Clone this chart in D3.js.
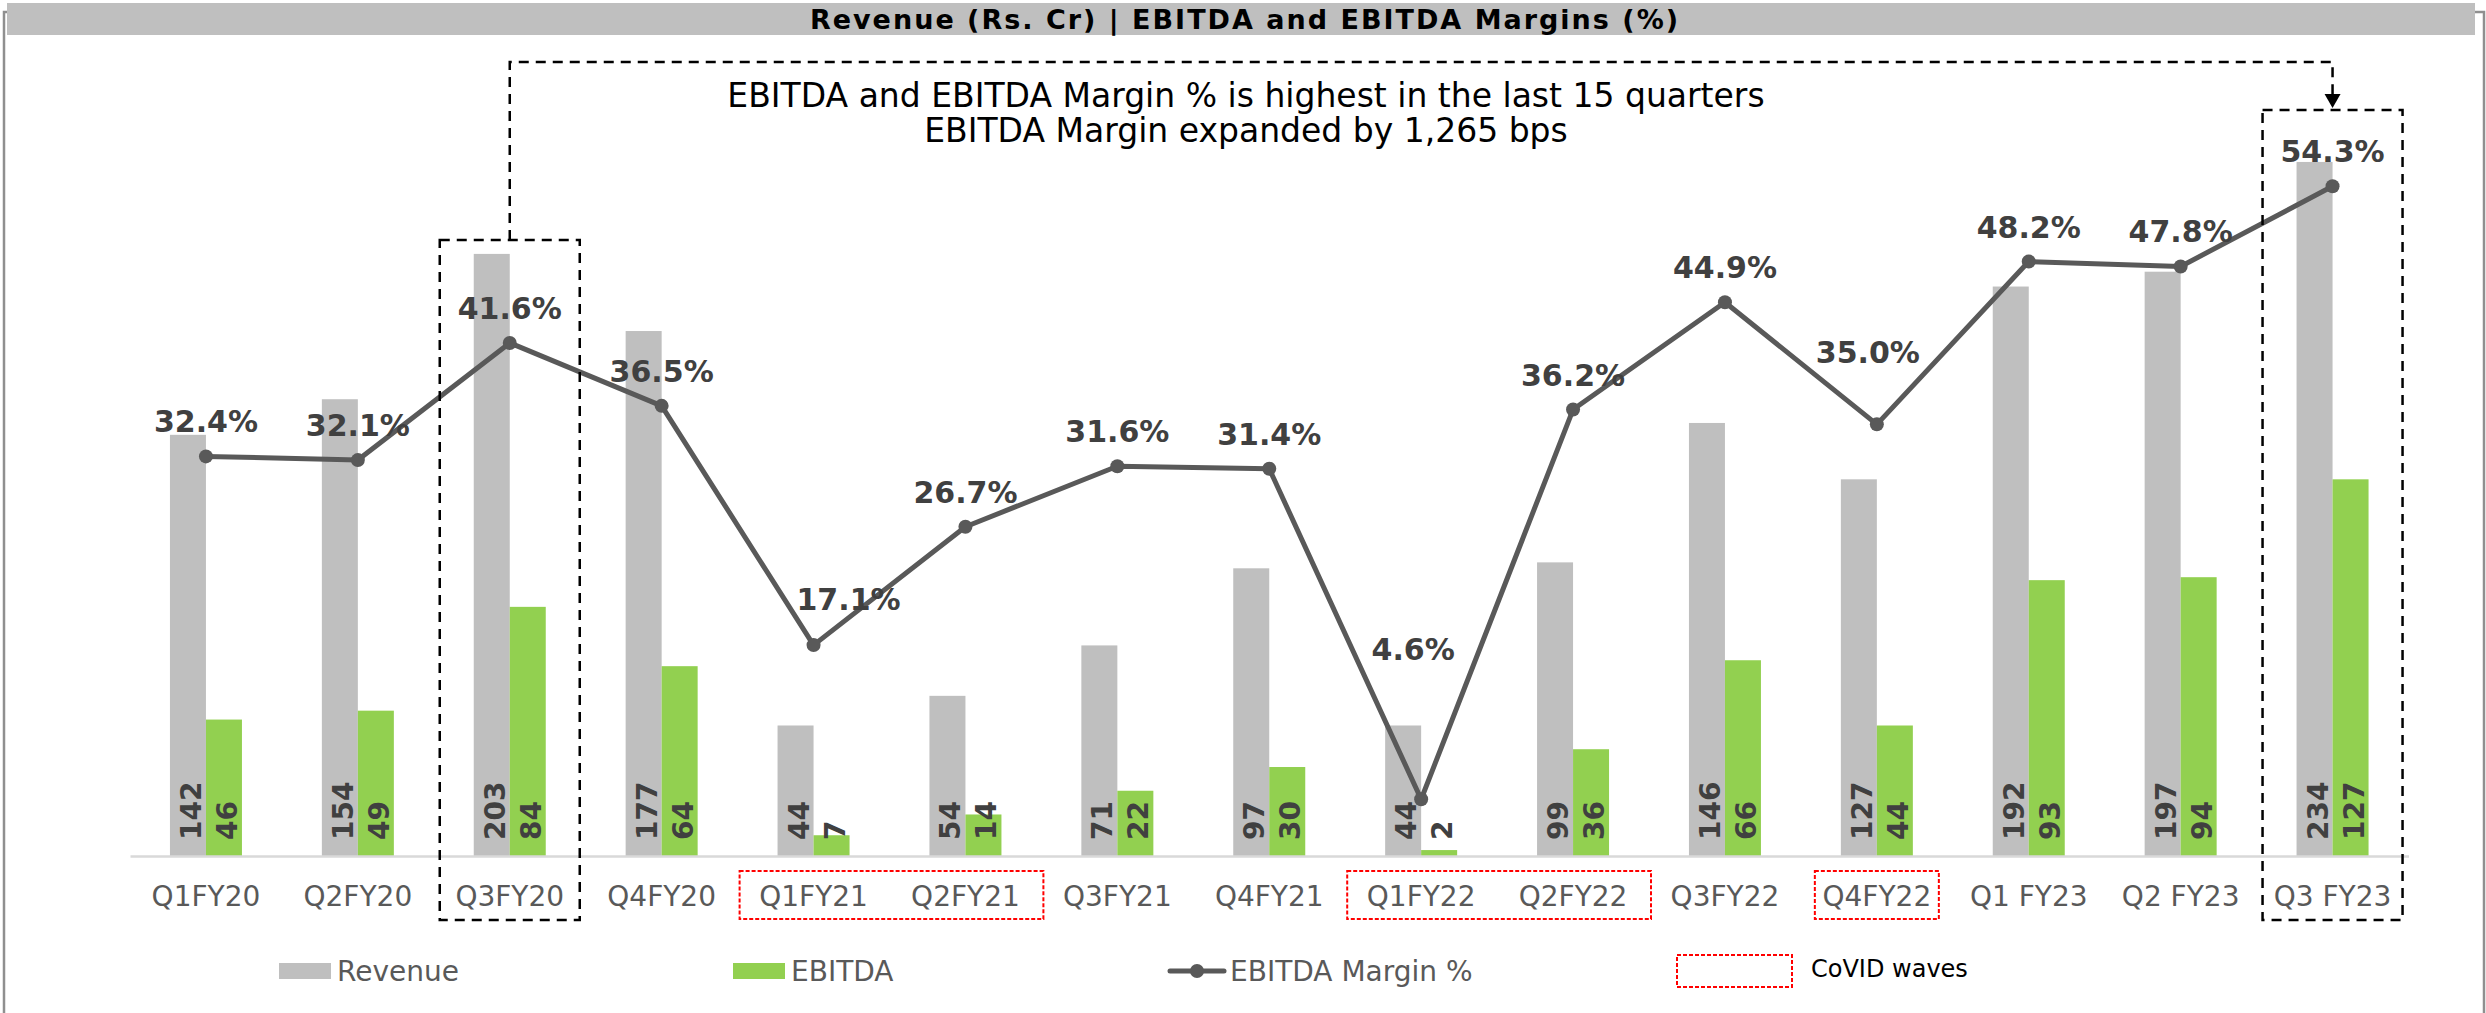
<!DOCTYPE html>
<html>
<head>
<meta charset="utf-8">
<script src="https://cdn.jsdelivr.net/npm/d3@7"></script>
<style>
body { margin: 0; background: #fff; }
svg { display: block; font-family: "DejaVu Sans", Verdana, sans-serif; }
</style>
</head>
<body>
<script>
var width = 2486;
var height = 1013;

// data
var quarters = ["Q1FY20", "Q2FY20", "Q3FY20", "Q4FY20", "Q1FY21", "Q2FY21", "Q3FY21", "Q4FY21",
                "Q1FY22", "Q2FY22", "Q3FY22", "Q4FY22", "Q1 FY23", "Q2 FY23", "Q3 FY23"];
var revenue = [142, 154, 203, 177, 44, 54, 71, 97, 44, 99, 146, 127, 192, 197, 234];
var ebitda = [46, 49, 84, 64, 7, 14, 22, 30, 2, 36, 66, 44, 93, 94, 127];
var margin = [32.4, 32.1, 41.6, 36.5, 17.1, 26.7, 31.6, 31.4, 4.6, 36.2, 44.9, 35.0, 48.2, 47.8, 54.3];

var covidWaves = [["Q1FY21", "Q2FY21"], ["Q1FY22", "Q2FY22"], ["Q4FY22"]];
var highlighted = ["Q3FY20", "Q3 FY23"];
var title = "Revenue (Rs. Cr) | EBITDA and EBITDA Margins (%)";
var note = ["EBITDA and EBITDA Margin % is highest in the last 15 quarters",
            "EBITDA Margin expanded by 1,265 bps"];

var baseY = 856;
var barW = 36;
var grey = "#bfbfbf", green = "#92d050", lineCol = "#595959", labelCol = "#404040";

var x = d3.scaleBand().domain(quarters).range([130, 2408.5]);
var yBar = d3.scaleLinear().domain([0, 250]).range([baseY, baseY - 741.5]);
var yPct = d3.scaleLinear().domain([0, 60]).range([baseY, baseY - 740]);
function cx(q) { return x(q) + x.bandwidth() / 2; }

// label nudges where the original moved them off the point
var pctShift = {"Q1FY21": [35, -35], "Q1FY22": [-8, -139], "Q4FY22": [-9, -61]};

var svg = d3.select("body").append("svg")
  .attr("width", width)
  .attr("height", height);

// frame + title band
svg.append("rect")
  .attr("x", 4).attr("y", 12).attr("width", 2480).attr("height", 1020)
  .attr("fill", "none").attr("stroke", "#8f8f8f").attr("stroke-width", 2.5);
svg.append("rect")
  .attr("x", 7).attr("y", 3).attr("width", 2468).attr("height", 32)
  .attr("fill", grey);
svg.append("text")
  .attr("x", 1245).attr("y", 29)
  .attr("text-anchor", "middle")
  .attr("font-size", "27px").attr("font-weight", "bold")
  .attr("letter-spacing", "2px")
  .attr("fill", "#000")
  .text(title);

// bars
var rows = quarters.map(function(q, i) {
  return {q: q, rev: revenue[i], ebitda: ebitda[i], pct: margin[i]};
});

svg.selectAll(".rev")
  .data(rows).enter().append("rect")
  .attr("class", "rev")
  .attr("x", function(d) { return cx(d.q) - barW; })
  .attr("y", function(d) { return yBar(d.rev); })
  .attr("width", barW)
  .attr("height", function(d) { return baseY - yBar(d.rev); })
  .attr("fill", grey);

svg.selectAll(".ebitda")
  .data(rows).enter().append("rect")
  .attr("class", "ebitda")
  .attr("x", function(d) { return cx(d.q); })
  .attr("y", function(d) { return yBar(d.ebitda); })
  .attr("width", barW)
  .attr("height", function(d) { return baseY - yBar(d.ebitda); })
  .attr("fill", green);

// x axis
var axis = svg.append("g")
  .attr("transform", "translate(0," + baseY + ")")
  .call(d3.axisBottom(x).tickSize(0).tickSizeOuter(0));
axis.select(".domain").attr("stroke", "#d9d9d9").attr("stroke-width", 2.5);
axis.selectAll("text")
  .attr("y", 50).attr("dy", null)
  .attr("font-size", "28px")
  .attr("font-family", "DejaVu Sans, Verdana, sans-serif")
  .attr("fill", lineCol);

// vertical value labels
svg.selectAll(".revLab")
  .data(rows).enter().append("text")
  .attr("class", "revLab")
  .attr("transform", function(d) { return "translate(" + (cx(d.q) - 5) + "," + (baseY - 16) + ") rotate(-90)"; })
  .attr("font-size", "28px").attr("font-weight", "bold")
  .attr("fill", labelCol)
  .text(function(d) { return d.rev; });

svg.selectAll(".ebLab")
  .data(rows).enter().append("text")
  .attr("class", "ebLab")
  .attr("transform", function(d) { return "translate(" + (cx(d.q) + 31) + "," + (baseY - 16) + ") rotate(-90)"; })
  .attr("font-size", "28px").attr("font-weight", "bold")
  .attr("fill", labelCol)
  .text(function(d) { return d.ebitda; });

// margin line
var line = d3.line()
  .x(function(d) { return cx(d.q); })
  .y(function(d) { return yPct(d.pct); });

svg.append("path")
  .datum(rows)
  .attr("d", line)
  .attr("fill", "none")
  .attr("stroke", lineCol)
  .attr("stroke-width", 5)
  .attr("stroke-linejoin", "round");

svg.selectAll(".dot")
  .data(rows).enter().append("circle")
  .attr("class", "dot")
  .attr("cx", function(d) { return cx(d.q); })
  .attr("cy", function(d) { return yPct(d.pct); })
  .attr("r", 7)
  .attr("fill", lineCol);

svg.selectAll(".pctLab")
  .data(rows).enter().append("text")
  .attr("class", "pctLab")
  .attr("x", function(d) { return cx(d.q) + (pctShift[d.q] ? pctShift[d.q][0] : 0); })
  .attr("y", function(d) { return yPct(d.pct) + (pctShift[d.q] ? pctShift[d.q][1] : -24); })
  .attr("text-anchor", "middle")
  .attr("font-size", "30px").attr("font-weight", "bold")
  .attr("fill", labelCol)
  .text(function(d) { return d.pct.toFixed(1) + "%"; });

// highlight boxes and connector
var boxTop = {"Q3FY20": 240, "Q3 FY23": 110};
svg.selectAll(".hl")
  .data(highlighted).enter().append("rect")
  .attr("class", "hl")
  .attr("x", function(q) { return cx(q) - 70; })
  .attr("y", function(q) { return boxTop[q]; })
  .attr("width", 140)
  .attr("height", function(q) { return 920 - boxTop[q]; })
  .attr("fill", "none").attr("stroke", "#000")
  .attr("stroke-width", 2.5).attr("stroke-dasharray", "10,7");

var x0 = cx(highlighted[0]), x1 = cx(highlighted[1]);
svg.append("path")
  .attr("d", "M" + x0 + ",240V62H" + x1 + "V95")
  .attr("fill", "none").attr("stroke", "#000")
  .attr("stroke-width", 2.5).attr("stroke-dasharray", "10,7");
svg.append("path")
  .attr("d", "M" + x1 + ",108L" + (x1 - 8) + ",94L" + (x1 + 8) + ",94Z")
  .attr("fill", "#000");

svg.selectAll(".note")
  .data(note).enter().append("text")
  .attr("class", "note")
  .attr("x", 1246)
  .attr("y", function(d, i) { return 107 + i * 35; })
  .attr("text-anchor", "middle")
  .attr("font-size", "33px")
  .attr("fill", "#000")
  .text(function(d) { return d; });

// covid boxes
svg.selectAll(".covid")
  .data(covidWaves).enter().append("rect")
  .attr("class", "covid")
  .attr("x", function(g) { return g.length > 1 ? x(g[0]) + 2 : cx(g[0]) - 62; })
  .attr("y", 871)
  .attr("width", function(g) {
    return g.length > 1 ? x(g[g.length - 1]) + x.bandwidth() - x(g[0]) : 124;
  })
  .attr("height", 48)
  .attr("fill", "none").attr("stroke", "#ff0000")
  .attr("stroke-width", 2).attr("stroke-dasharray", "4,2");

// legend
var legend = svg.append("g");
legend.append("rect").attr("x", 279).attr("y", 963).attr("width", 52).attr("height", 16).attr("fill", grey);
legend.append("text").attr("x", 337).attr("y", 981).text("Revenue");
legend.append("rect").attr("x", 733).attr("y", 963).attr("width", 52).attr("height", 16).attr("fill", green);
legend.append("text").attr("x", 791).attr("y", 981).text("EBITDA");
legend.append("line").attr("x1", 1170).attr("x2", 1224).attr("y1", 971).attr("y2", 971)
  .attr("stroke", lineCol).attr("stroke-width", 5).attr("stroke-linecap", "round");
legend.append("circle").attr("cx", 1197).attr("cy", 971).attr("r", 7).attr("fill", lineCol);
legend.append("text").attr("x", 1230).attr("y", 981).text("EBITDA Margin %");
legend.selectAll("text").attr("font-size", "28px").attr("fill", lineCol);

legend.append("rect").attr("x", 1677).attr("y", 955).attr("width", 115).attr("height", 32)
  .attr("fill", "none").attr("stroke", "#ff0000").attr("stroke-width", 2).attr("stroke-dasharray", "4,2");
legend.append("text").attr("x", 1811).attr("y", 977)
  .attr("font-size", "24px").attr("fill", "#000")
  .text("CoVID waves");
</script>
</body>
</html>
